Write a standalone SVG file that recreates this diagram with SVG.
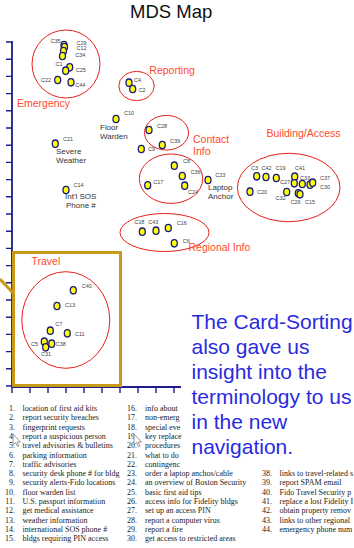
<svg xmlns="http://www.w3.org/2000/svg" width="354" height="548" viewBox="0 0 354 548">
<style>
.bg{fill:#ffffff}
.axis{stroke:#1c1c8c;stroke-width:1.8;fill:none}
.tick{stroke:#1c1c8c;stroke-width:1.4}
.dot{fill:#ffff00;stroke:#1a1a80;stroke-width:1.3}
.dl{font-family:"Liberation Sans",Arial,sans-serif;font-size:5.5px;fill:#444}
.cl{stroke:#e8201a;stroke-width:1;fill:none}
.ct{font-family:"Liberation Sans",Arial,sans-serif;font-size:10.5px;fill:#ff4a2e}
.gt{font-family:"Liberation Sans",Arial,sans-serif;font-size:8px;fill:#333}
.title{font-family:"Liberation Sans",Arial,sans-serif;font-size:18.5px;fill:#111}
.blue{font-family:"Liberation Sans",Arial,sans-serif;font-size:21px;fill:#2a2ae0}
.li{font-family:"Liberation Serif","Times New Roman",serif;font-size:8px;fill:#222}
.num{text-anchor:end}
.gold{stroke:#c99a18;stroke-width:3;fill:none}
.cursor{fill:#ffffff;stroke:#555;stroke-width:0.6}
</style>
<rect class="bg" x="0" y="0" width="354" height="548"/>
<text class="title" x="130" y="17.5">MDS Map</text>

<g id="axes">
<path class="axis" d="M12,41 V387 H181"/>
<path class="tick" d="M6,42H12M6,59.2H12M6,76.4H12M6,93.6H12M6,110.8H12M6,128H12M6,145.2H12M6,162.4H12M6,179.6H12M6,196.8H12M6,214H12M6,231.2H12M6,248.4H12M6,265.6H12M6,282.8H12M6,300H12M6,317.2H12M6,334.4H12M6,351.6H12M6,368.8H12M6,386H12"/>
<path class="tick" d="M12,387V393M30,387V393M48,387V393M66,387V393M84,387V393M102,387V393M120,387V393M138,387V393M156,387V393M174,387V393"/>
</g>

<g id="connectors">
<line class="gold" x1="0" y1="279" x2="13" y2="293"/>
</g>

<g id="travel-box">
<rect class="gold" x="13.5" y="252.5" width="107" height="133"/>
<text class="ct" x="31.5" y="265">Travel</text>
</g>

<g id="cluster-emergency">
<circle class="cl" cx="66" cy="64" r="34"/>
<text class="ct" x="17" y="106.5">Emergency</text>
</g>
<g id="cluster-reporting">
<ellipse class="cl" cx="136.5" cy="86" rx="17.7" ry="14.5"/>
<text class="ct" x="149.3" y="74">Reporting</text>
</g>
<g id="cluster-contact">
<ellipse class="cl" cx="166.5" cy="132.7" rx="22" ry="17.3"/>
<text class="ct" x="193" y="142.5">Contact</text>
<text class="ct" x="193" y="154.5">Info</text>
</g>
<g id="cluster-c8">
<ellipse class="cl" cx="171" cy="178.7" rx="31.7" ry="24.7"/>
</g>
<g id="cluster-regional">
<ellipse class="cl" cx="164.5" cy="232.5" rx="44.5" ry="19"/>
<text class="ct" x="188.5" y="250.5">Regional Info</text>
</g>
<g id="cluster-building">
<ellipse class="cl" cx="288.7" cy="187.5" rx="51.3" ry="34.2"/>
<text class="ct" x="266.5" y="137">Building/Access</text>
</g>
<g id="cluster-travel">
<ellipse class="cl" cx="65.8" cy="320" rx="44" ry="48.3"/>
</g>

<g id="label-floor-warden"><text class="gt" x="100" y="130">Floor</text><text class="gt" x="100" y="139">Warden</text></g>
<g id="label-severe-weather"><text class="gt" x="56" y="154">Severe</text><text class="gt" x="56" y="163">Weather</text></g>
<g id="label-intl-sos"><text class="gt" x="65" y="199">Int'l SOS</text><text class="gt" x="66" y="208">Phone #</text></g>
<g id="label-laptop-anchor"><text class="gt" x="208" y="190">Laptop</text><text class="gt" x="208" y="199">Anchor</text></g>

<g id="n-C35"><ellipse class="dot" cx="64" cy="45" rx="3" ry="3.7"/><text class="dl" x="50.5" y="42.5">C35</text></g>
<g id="n-C29"><ellipse class="dot" cx="64.5" cy="47" rx="3" ry="3.7"/><text class="dl" x="76.5" y="44.5">C29</text></g>
<g id="n-C12"><ellipse class="dot" cx="63.5" cy="51" rx="3" ry="3.7"/><text class="dl" x="76.5" y="49.5">C12</text></g>
<g id="n-C34"><ellipse class="dot" cx="62.5" cy="56" rx="3" ry="3.7"/><text class="dl" x="75.3" y="56.5">C34</text></g>
<g id="n-C25"><ellipse class="dot" cx="69.7" cy="67.3" rx="3" ry="3.7"/><text class="dl" x="75.7" y="72">C25</text></g>
<g id="n-C1"><ellipse class="dot" cx="65.7" cy="70.7" rx="3" ry="3.7"/><text class="dl" x="55.5" y="66">C1</text></g>
<g id="n-C22"><ellipse class="dot" cx="57.7" cy="80" rx="3" ry="3.7"/><text class="dl" x="41" y="82">C22</text></g>
<g id="n-C44"><ellipse class="dot" cx="71" cy="82.3" rx="3" ry="3.7"/><text class="dl" x="75.3" y="87">C44</text></g>

<g id="n-C4"><ellipse class="dot" cx="129" cy="82.7" rx="3" ry="3.7"/><text class="dl" x="134" y="82">C4</text></g>
<g id="n-C2"><ellipse class="dot" cx="132.7" cy="89" rx="3" ry="3.7"/><text class="dl" x="138.5" y="92">C2</text></g>
<g id="n-C10"><ellipse class="dot" cx="116" cy="119" rx="3" ry="3.7"/><text class="dl" x="124" y="115">C10</text></g>

<g id="n-C28"><ellipse class="dot" cx="149" cy="130" rx="3" ry="3.7"/><text class="dl" x="157" y="127.5">C28</text></g>
<g id="n-C39"><ellipse class="dot" cx="162.3" cy="145" rx="3" ry="3.7"/><text class="dl" x="170" y="143">C39</text></g>
<g id="n-C9"><ellipse class="dot" cx="141.3" cy="149" rx="3" ry="3.7"/><text class="dl" x="148" y="150.5">C9</text></g>

<g id="n-C21"><ellipse class="dot" cx="55.3" cy="143.7" rx="3" ry="3.7"/><text class="dl" x="63" y="141">C21</text></g>
<g id="n-C14"><ellipse class="dot" cx="66" cy="190" rx="3" ry="3.7"/><text class="dl" x="73.5" y="187">C14</text></g>

<g id="n-C8"><ellipse class="dot" cx="174.3" cy="165.7" rx="3" ry="3.7"/><text class="dl" x="183" y="163">C8</text></g>
<g id="n-C36"><ellipse class="dot" cx="182.3" cy="176" rx="3" ry="3.7"/><text class="dl" x="190.5" y="174">C36</text></g>
<g id="n-C24"><ellipse class="dot" cx="184.7" cy="185.7" rx="3" ry="3.7"/><text class="dl" x="188" y="193.5">C24</text></g>
<g id="n-C17"><ellipse class="dot" cx="147.7" cy="185.3" rx="3" ry="3.7"/><text class="dl" x="153.3" y="184">C17</text></g>
<g id="n-C23"><ellipse class="dot" cx="208" cy="180" rx="3" ry="3.7"/><text class="dl" x="215.3" y="176.5">C23</text></g>

<g id="n-C18"><ellipse class="dot" cx="142.3" cy="231.7" rx="3" ry="3.7"/><text class="dl" x="134.3" y="223.5">C18</text></g>
<g id="n-C43"><ellipse class="dot" cx="156" cy="230.7" rx="3" ry="3.7"/><text class="dl" x="148.3" y="223.5">C43</text></g>
<g id="n-C16"><ellipse class="dot" cx="168.3" cy="228" rx="3" ry="3.7"/><text class="dl" x="176.7" y="225">C16</text></g>
<g id="n-C6"><ellipse class="dot" cx="174.3" cy="243.3" rx="3" ry="3.7"/><text class="dl" x="182.7" y="243">C6</text></g>

<g id="n-C3"><ellipse class="dot" cx="256.7" cy="176.3" rx="3" ry="3.7"/><text class="dl" x="251" y="169.5">C3</text></g>
<g id="n-C42"><ellipse class="dot" cx="266" cy="177" rx="3" ry="3.7"/><text class="dl" x="261.5" y="169.5">C42</text></g>
<g id="n-C19"><ellipse class="dot" cx="276.3" cy="178" rx="3" ry="3.7"/><text class="dl" x="275.5" y="169.5">C19</text></g>
<g id="n-C41"><ellipse class="dot" cx="294.7" cy="176.7" rx="3" ry="3.7"/><text class="dl" x="295" y="169.5">C41</text></g>
<g id="n-C27"><ellipse class="dot" cx="294.3" cy="183.3" rx="3" ry="3.7"/><text class="dl" x="280" y="184">C27</text></g>
<g id="n-C33"><ellipse class="dot" cx="302.3" cy="184" rx="3" ry="3.7"/><text class="dl" x="300" y="179.5">C33</text></g>
<g id="n-C30"><ellipse class="dot" cx="310" cy="184.7" rx="3" ry="3.7"/><text class="dl" x="320" y="188.5">C30</text></g>
<g id="n-C37"><ellipse class="dot" cx="312.7" cy="182.7" rx="3" ry="3.7"/><text class="dl" x="320" y="179.5">C37</text></g>
<g id="n-C20"><ellipse class="dot" cx="250" cy="191.7" rx="3" ry="3.7"/><text class="dl" x="257" y="193.5">C20</text></g>
<g id="n-C32"><ellipse class="dot" cx="286.7" cy="192" rx="3" ry="3.7"/><text class="dl" x="275.5" y="199.5">C32</text></g>
<g id="n-C26"><ellipse class="dot" cx="298.3" cy="193.3" rx="3" ry="3.7"/><text class="dl" x="290.5" y="204">C26</text></g>
<g id="n-C15"><ellipse class="dot" cx="300" cy="194.3" rx="3" ry="3.7"/><text class="dl" x="305" y="204">C15</text></g>

<g id="n-C40"><ellipse class="dot" cx="73.3" cy="290.3" rx="3" ry="3.7"/><text class="dl" x="81.7" y="287.5">C40</text></g>
<g id="n-C13"><ellipse class="dot" cx="57" cy="306" rx="3" ry="3.7"/><text class="dl" x="65" y="307">C13</text></g>
<g id="n-C7"><ellipse class="dot" cx="50.3" cy="330.7" rx="3" ry="3.7"/><text class="dl" x="55.3" y="326">C7</text></g>
<g id="n-C11"><ellipse class="dot" cx="67.3" cy="333.3" rx="3" ry="3.7"/><text class="dl" x="75" y="336">C11</text></g>
<g id="n-C5"><ellipse class="dot" cx="44.3" cy="341.7" rx="3" ry="3.7"/><text class="dl" x="31" y="346">C5</text></g>
<g id="n-C38"><ellipse class="dot" cx="51.7" cy="343.7" rx="3" ry="3.7"/><text class="dl" x="55.7" y="346">C38</text></g>
<g id="n-C31"><ellipse class="dot" cx="45.7" cy="347.3" rx="3" ry="3.7"/><text class="dl" x="41" y="356">C31</text></g>

<g id="callout">
<text class="blue" x="191.5" y="329">The Card-Sorting</text>
<text class="blue" x="191.5" y="354">also gave us</text>
<text class="blue" x="191.5" y="379">insight into the</text>
<text class="blue" x="191.5" y="404">terminology to us</text>
<text class="blue" x="191.5" y="429">in the new</text>
<text class="blue" x="191.5" y="454">navigation.</text>
</g>

<g id="legend">
<text class="li num" x="15" y="411">1.</text><text class="li" x="22.5" y="411">location of first aid kits</text>
<text class="li num" x="15" y="420.3">2.</text><text class="li" x="22.5" y="420.3">report security breaches</text>
<text class="li num" x="15" y="429.6">3.</text><text class="li" x="22.5" y="429.6">fingerprint requests</text>
<text class="li num" x="15" y="438.9">4.</text><text class="li" x="22.5" y="438.9">report a suspicious person</text>
<text class="li num" x="15" y="448.2">5.</text><text class="li" x="22.5" y="448.2">travel advisories &amp; bulletins</text>
<text class="li num" x="15" y="457.5">6.</text><text class="li" x="22.5" y="457.5">parking information</text>
<text class="li num" x="15" y="466.8">7.</text><text class="li" x="22.5" y="466.8">traffic advisories</text>
<text class="li num" x="15" y="476.1">8.</text><text class="li" x="22.5" y="476.1">security desk phone # for bldg</text>
<text class="li num" x="15" y="485.4">9.</text><text class="li" x="22.5" y="485.4">security alerts-Fido locations</text>
<text class="li num" x="15" y="494.7">10.</text><text class="li" x="22.5" y="494.7">floor warden list</text>
<text class="li num" x="15" y="504">11.</text><text class="li" x="22.5" y="504">U.S. passport information</text>
<text class="li num" x="15" y="513.3">12.</text><text class="li" x="22.5" y="513.3">get medical assistance</text>
<text class="li num" x="15" y="522.6">13.</text><text class="li" x="22.5" y="522.6">weather information</text>
<text class="li num" x="15" y="531.9">14.</text><text class="li" x="22.5" y="531.9">international SOS phone #</text>
<text class="li num" x="15" y="541.2">15.</text><text class="li" x="22.5" y="541.2">bldgs requiring PIN access</text>

<text class="li num" x="137" y="411">16.</text><text class="li" x="145" y="411">info about</text>
<text class="li num" x="137" y="420.3">17.</text><text class="li" x="145" y="420.3">non-emerg</text>
<text class="li num" x="137" y="429.6">18.</text><text class="li" x="145" y="429.6">special eve</text>
<text class="li num" x="137" y="438.9">19.</text><text class="li" x="145" y="438.9">key replace</text>
<text class="li num" x="137" y="448.2">20.</text><text class="li" x="145" y="448.2">procedures</text>
<text class="li num" x="137" y="457.5">21.</text><text class="li" x="145" y="457.5">what to do</text>
<text class="li num" x="137" y="466.8">22.</text><text class="li" x="145" y="466.8">contingenc</text>
<text class="li num" x="137" y="476.1">23.</text><text class="li" x="145" y="476.1">order a laptop anchos/cable</text>
<text class="li num" x="137" y="485.4">24.</text><text class="li" x="145" y="485.4">an overview of Boston Security</text>
<text class="li num" x="137" y="494.7">25.</text><text class="li" x="145" y="494.7">basic first aid tips</text>
<text class="li num" x="137" y="504">26.</text><text class="li" x="145" y="504">access info for Fidelity bldgs</text>
<text class="li num" x="137" y="513.3">27.</text><text class="li" x="145" y="513.3">set up an access PIN</text>
<text class="li num" x="137" y="522.6">28.</text><text class="li" x="145" y="522.6">report a computer virus</text>
<text class="li num" x="137" y="531.9">29.</text><text class="li" x="145" y="531.9">report a fire</text>
<text class="li num" x="137" y="541.2">30.</text><text class="li" x="145" y="541.2">get access to restricted areas</text>

<text class="li num" x="272" y="476.1">38.</text><text class="li" x="279.5" y="476.1">links to travel-related s</text>
<text class="li num" x="272" y="485.4">39.</text><text class="li" x="279.5" y="485.4">report SPAM email</text>
<text class="li num" x="272" y="494.7">40.</text><text class="li" x="279.5" y="494.7">Fido Travel Security p</text>
<text class="li num" x="272" y="504">41.</text><text class="li" x="279.5" y="504">replace a lost Fidelity I</text>
<text class="li num" x="272" y="513.3">42.</text><text class="li" x="279.5" y="513.3">obtain property remov</text>
<text class="li num" x="272" y="522.6">43.</text><text class="li" x="279.5" y="522.6">links to other regional</text>
<text class="li num" x="272" y="531.9">44.</text><text class="li" x="279.5" y="531.9">emergency phone num</text>
</g>

<g id="cursors">
<path class="cursor" d="M13,434 v11 l2.5,-2.5 l2,4 l1.5,-0.7 l-2,-3.8 h3.5 z"/>
<path class="cursor" d="M134,434 v11 l2.5,-2.5 l2,4 l1.5,-0.7 l-2,-3.8 h3.5 z"/>
</g>
</svg>
